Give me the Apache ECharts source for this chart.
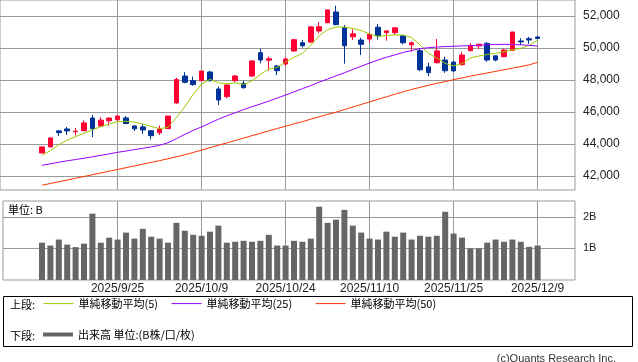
<!DOCTYPE html>
<html>
<head>
<meta charset="utf-8">
<script src="https://cdn.jsdelivr.net/npm/echarts@6/dist/echarts.min.js"></script>
<style>
html,body{margin:0;padding:0;background:#fff;}
#chart{width:638px;height:362px;}
</style>
</head>
<body>
<div id="chart"></div>
<script>
// ---- data ----
const dates = [
'2025/9/10','2025/9/11','2025/9/12','2025/9/16','2025/9/17','2025/9/18','2025/9/19','2025/9/22','2025/9/24','2025/9/25',
'2025/9/26','2025/9/29','2025/9/30','2025/10/1','2025/10/2','2025/10/3','2025/10/6','2025/10/7','2025/10/8','2025/10/9',
'2025/10/10','2025/10/14','2025/10/15','2025/10/16','2025/10/17','2025/10/20','2025/10/21','2025/10/22','2025/10/23','2025/10/24',
'2025/10/27','2025/10/28','2025/10/29','2025/10/30','2025/10/31','2025/11/4','2025/11/5','2025/11/6','2025/11/7','2025/11/10',
'2025/11/11','2025/11/12','2025/11/13','2025/11/14','2025/11/17','2025/11/18','2025/11/19','2025/11/20','2025/11/21','2025/11/25',
'2025/11/26','2025/11/27','2025/11/28','2025/12/1','2025/12/2','2025/12/3','2025/12/4','2025/12/5','2025/12/8','2025/12/9'];

const openP = [43440,43820,44820,44940,44760,44830,45625,45125,45450,45510,
45630,45130,45070,44830,44700,44960,46570,48250,47960,47960,
48500,47440,46960,47960,47790,48250,49710,49240,48870,49000,
49810,50330,50370,51060,51580,52250,51270,50700,50500,50560,
51300,50960,50960,50760,50200,49830,48820,49080,49250,49120,
48960,49830,50130,50290,49510,49460,49860,50440,50580,50690];
const closeP = [43820,44380,44710,44820,44800,45320,44960,45490,45620,45750,
45280,44950,44880,44520,44940,45750,48030,47860,47710,48560,
47960,46750,47690,48250,47520,49190,49250,49330,48580,49310,
50520,50140,51320,51330,52380,51460,50140,50890,50230,50860,
50760,51070,51260,50330,50330,48640,48460,49820,48580,48570,
49560,50150,50240,49250,49250,49870,51000,50380,50500,50590];
const lowP = [43430,43800,44500,44570,44530,44800,44430,45100,45150,45490,
45250,44820,44630,44290,44560,44940,46510,47790,47640,47940,
47900,46440,46860,47860,47460,48190,49040,48590,48310,48870,
49770,50030,50320,50920,51550,51420,49020,50500,49560,50330,
50520,50460,50800,50230,49770,48550,48240,49040,48450,48500,
48890,49800,49950,49140,49170,49430,49820,50200,50260,50550];
const highP = [43840,44400,44875,45060,45010,45470,45820,45680,45670,45780,
45750,45150,45230,44880,45160,45760,48140,48490,48210,48580,
48580,47580,47730,48320,47960,49240,49960,49460,48940,49420,
50560,50500,51380,51620,52410,52640,51440,51170,50640,50950,
51490,51080,51310,50830,50390,49980,49080,50560,49450,49190,
49770,50310,50250,50370,49530,49950,51010,50610,50700,50750];

const volume = [1.18,1.09,1.28,1.12,1.04,1.15,2.10,1.18,1.34,1.28,
1.50,1.31,1.62,1.37,1.31,1.18,1.81,1.56,1.43,1.40,
1.53,1.72,1.18,1.21,1.24,1.21,1.24,1.43,1.09,1.09,
1.24,1.21,1.31,2.32,1.81,1.91,2.22,1.72,1.50,1.31,
1.28,1.53,1.37,1.50,1.28,1.40,1.37,1.40,2.16,1.47,
1.34,1.00,1.00,1.18,1.28,1.21,1.28,1.21,1.05,1.09];

const ma5 = [43300,43580,43950,44250,44460,44670,44880,45080,45250,45390,
45420,45360,45250,45100,44960,45040,45650,46330,47100,47750,
48040,47830,47760,47820,47720,47950,48350,48690,48780,49120,
49420,49660,50180,50760,51150,51310,51310,51220,51090,50870,
50720,50780,50830,50800,50650,50200,49670,49370,49040,48880,
49020,49380,49500,49590,49670,49760,49890,49980,50160,50500];
const ma25 = [42670,42760,42860,42950,43030,43110,43200,43290,43380,43480,
43560,43650,43730,43820,43920,44080,44330,44600,44850,45070,
45310,45550,45760,45950,46150,46330,46500,46680,46870,47060,
47260,47460,47650,47870,48060,48260,48450,48660,48860,49060,
49250,49420,49570,49720,49840,49960,50020,50060,50090,50110,
50130,50150,50160,50200,50220,50230,50220,50200,50170,50120];
const ma50 = [41420,41530,41640,41750,41860,41970,42080,42190,42300,42410,
42520,42630,42740,42850,42960,43080,43200,43330,43470,43620,
43770,43920,44070,44220,44370,44520,44670,44820,44970,45110,
45260,45400,45550,45700,45850,45990,46150,46310,46470,46630,
46790,46950,47110,47260,47410,47540,47670,47790,47900,48020,
48130,48240,48340,48440,48540,48640,48740,48840,48950,49100];

const tickDates = ['2025/9/25','2025/10/9','2025/10/24','2025/11/10','2025/11/25','2025/12/9'];
const priceTicks = [42000, 52000, 2000]; // min, max, step
const volTicks = [1, 2];

const nameMA5 = '単純移動平均(5)';
const nameMA25 = '単純移動平均(25)';
const nameMA50 = '単純移動平均(50)';
const nameVol = '出来高 単位:(B株/口/枚)';

// ---- build ----
const padL = 5, padR = 4;
const cats = [];
for (let i = 0; i < padL; i++) cats.push('_l' + i);
dates.forEach(d => cats.push(d));
for (let i = 0; i < padR; i++) cats.push('_r' + i);

const showTick = (idx, val) => tickDates.indexOf(val) >= 0;

const candleData = dates.map((d, i) => [i + padL, openP[i], closeP[i], lowP[i], highP[i]]);
const toXY = arr => arr.map((v, i) => [i + padL, v]);

const GRID = '#999999';
const JP = '"Noto Sans CJK JP", sans-serif';
const LAT = '"Liberation Sans", Arial, sans-serif';
const UP = '#ff0033', DOWN = '#003399';
const C5 = '#99cc00', C25 = '#9900ff', C50 = '#ff3300';

const legItem = (name, c) => ({name: name,
  itemStyle: {opacity: 0}, lineStyle: {color: c, width: 1, opacity: 1}});
const legText = {fontSize: 11, color: '#000', fontFamily: JP};

const chart = echarts.init(document.getElementById('chart'), null, {renderer: 'canvas'});
chart.setOption({
  animation: false,
  backgroundColor: '#fff',
  title: [
    {text: '単位: B', left: 8, top: 204, padding: 0, textStyle: {fontSize: 11, fontWeight: 'normal', color: '#000', fontFamily: JP}},
    {text: '上段:', left: 10, top: 299, padding: 0, textStyle: {fontSize: 11, fontWeight: 'normal', color: '#000', fontFamily: JP}},
    {text: '下段:', left: 10, top: 330, padding: 0, textStyle: {fontSize: 11, fontWeight: 'normal', color: '#000', fontFamily: JP}},
    {text: '(c)Quants Research Inc.', right: 22, top: 353, padding: 0, textStyle: {fontSize: 11, fontWeight: 'normal', color: '#333', fontFamily: LAT}}
  ],
  legend: [
    {data: [legItem(nameMA5, C5), legItem(nameMA25, C25)],
     left: 43, top: 298, padding: 0, itemWidth: 30, itemHeight: 14, itemGap: 13,
     selectedMode: false, textStyle: legText},
    {data: [legItem(nameMA50, C50)],
     left: 315, top: 298, padding: 0, itemWidth: 30, itemHeight: 14,
     selectedMode: false, textStyle: legText},
    {data: [{name: nameVol, icon: 'rect', itemStyle: {color: '#666666', borderWidth: 0}}], left: 43, top: 329, padding: 0, itemWidth: 30, itemHeight: 4,
     selectedMode: false, textStyle: legText}
  ],
  graphic: [
    {type: 'rect', shape: {x: 3.5, y: 296.5, width: 629, height: 50}, style: {fill: 'none', stroke: '#000', lineWidth: 1}, silent: true}
  ],
  grid: [
    {left: 0, top: 0, width: 575, height: 190, show: true, borderColor: GRID, borderWidth: 1, backgroundColor: 'transparent'},
    {left: 0, top: 16, width: 575, height: 160},
    {left: 0, top: 0, width: 571.2, height: 190},
    {left: 3, top: 201, width: 572, height: 79, show: true, borderColor: GRID, borderWidth: 1, backgroundColor: 'transparent'},
    {left: 0, top: 201, width: 571.2, height: 79}
  ],
  xAxis: [
    {gridIndex: 0, type: 'value', show: false},
    {gridIndex: 1, type: 'value', show: false},
    {gridIndex: 2, type: 'category', data: cats, boundaryGap: false,
     axisLine: {show: false}, axisTick: {show: false}, axisLabel: {show: false},
     splitLine: {show: true, interval: showTick, lineStyle: {color: GRID, width: 1}}},
    {gridIndex: 3, type: 'value', show: false},
    {gridIndex: 4, type: 'category', data: cats, boundaryGap: false,
     axisLine: {show: false}, axisTick: {show: false},
     axisLabel: {show: true, interval: showTick, margin: 3, fontSize: 12, color: '#222', fontFamily: LAT},
     splitLine: {show: true, interval: showTick, lineStyle: {color: GRID, width: 1}}}
  ],
  yAxis: [
    {gridIndex: 0, type: 'value', show: false},
    {gridIndex: 1, type: 'value', position: 'right', min: priceTicks[0], max: priceTicks[1], interval: priceTicks[2],
     axisLine: {show: false}, axisTick: {show: true, inside: false, length: 4, lineStyle: {color: GRID}},
     axisLabel: {margin: 8, fontSize: 12, color: '#222', fontFamily: LAT, formatter: v => v.toLocaleString('en-US')},
     splitLine: {show: true, lineStyle: {color: GRID, width: 1}}},
    {gridIndex: 2, type: 'value', min: 41125, max: 53000, show: false},
    {gridIndex: 3, type: 'value', position: 'right', min: 0, max: 2.5, interval: 1,
     axisLine: {show: false},
     axisTick: {show: true, length: 4, lineStyle: {color: GRID}, customValues: volTicks},
     axisLabel: {margin: 8, fontSize: 11, color: '#222', fontFamily: LAT, customValues: volTicks, formatter: v => v + 'B'},
     splitLine: {show: true, lineStyle: {color: GRID, width: 1}}},
    {gridIndex: 4, type: 'value', min: 0, max: 2.5, show: false}
  ],
  series: [
    {type: 'candlestick', name: 'price', xAxisIndex: 2, yAxisIndex: 2, data: candleData,
     encode: {x: 0, y: [1, 2, 3, 4]}, barWidth: 5, clip: false, z: 3,
     itemStyle: {color: UP, color0: DOWN, borderColor: UP, borderColor0: DOWN, borderWidth: 1}},
    {type: 'line', name: nameMA5, xAxisIndex: 2, yAxisIndex: 2, data: toXY(ma5), symbol: 'none', z: 4,
     lineStyle: {color: C5, width: 1}, itemStyle: {color: C5}},
    {type: 'line', name: nameMA25, xAxisIndex: 2, yAxisIndex: 2, data: toXY(ma25), symbol: 'none', z: 4,
     lineStyle: {color: C25, width: 1}, itemStyle: {color: C25}},
    {type: 'line', name: nameMA50, xAxisIndex: 2, yAxisIndex: 2, data: toXY(ma50), symbol: 'none', z: 4,
     lineStyle: {color: C50, width: 1}, itemStyle: {color: C50}},
    {type: 'bar', name: nameVol, xAxisIndex: 4, yAxisIndex: 4, data: toXY(volume), barWidth: 6,
     itemStyle: {color: '#666666'}}
  ]
});
</script>
</body>
</html>
